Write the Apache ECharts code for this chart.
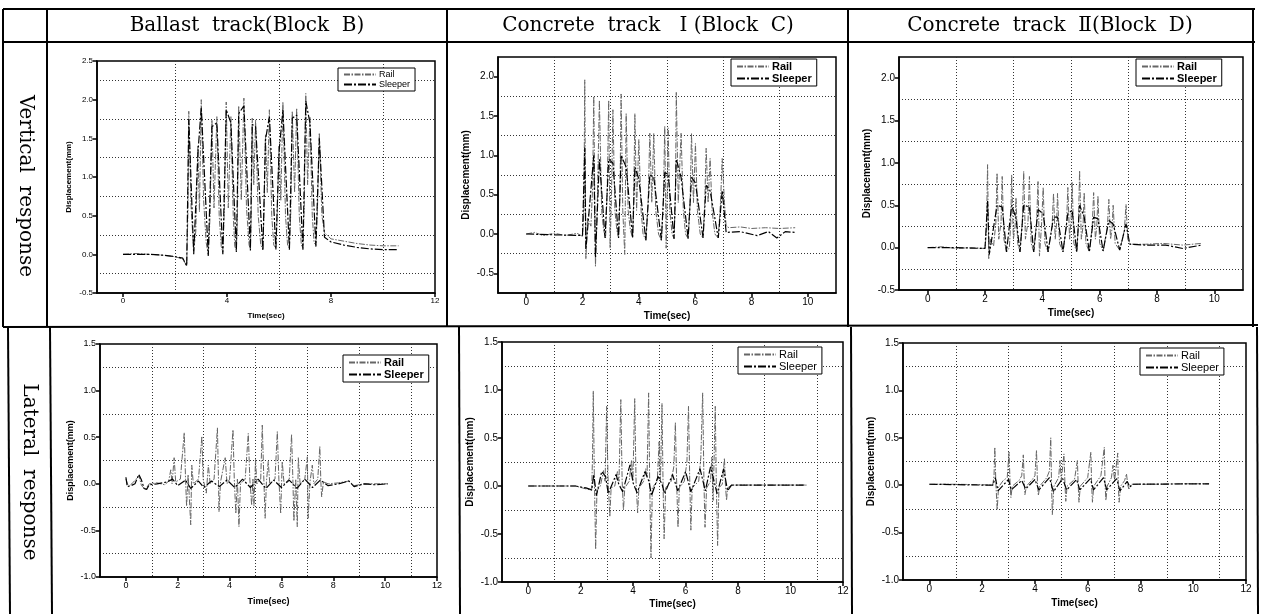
<!DOCTYPE html>
<html>
<head>
<meta charset="utf-8">
<script src="https://cdn.jsdelivr.net/npm/echarts@6/dist/echarts.min.js"></script>
<style>
    html, body {margin: 0; padding: 0; background: #fff;}
    #chart {width: 1261px; height: 614px;}
</style>
</head>
<body>
<div id="chart"></div>
<script>
// column / row captions
var columnTitles = ['Ballast  track(Block  B)', 'Concrete  track   \u2160 (Block  C)', 'Concrete  track  \u2161(Block  D)'];
var rowTitles = ['Vertical  response', 'Lateral  response'];
var legendNames = ['Rail', 'Sleeper'];

// tick labels and dotted grid positions
var xLabelsB = [0, 4, 8, 12];
var xGridB = [2, 6, 10];
var xLabelsC = [0, 2, 4, 6, 8, 10];
var xGridC = [1, 3, 5, 7, 9];
var xLabelsL = [0, 2, 4, 6, 8, 10, 12];
var xGridL = [1, 3, 5, 7, 9, 11];
var yLabelsVB = [-0.5, 0, 0.5, 1.0, 1.5, 2.0, 2.5];
var yGridVB = [-0.25, 0.25, 0.75, 1.25, 1.75, 2.25];
var yLabelsVC = [-0.5, 0, 0.5, 1.0, 1.5, 2.0];
var yGridVC = [-0.25, 0.25, 0.75, 1.25, 1.75];
var yLabelsL = [-1.0, -0.5, 0, 0.5, 1.0, 1.5];
var yGridL = [-0.75, -0.25, 0.25, 0.75, 1.25];

// vertical response, ballast track (Block B)
var vBallastRail = [[0,0],[0.5,0.01],[1,0],[1.5,-0.01],[2,-0.03],[2.3,-0.06],[2.45,-0.15],
    [2.5,0.6],[2.53,1.85],[2.62,0.6],[2.72,0.05],[2.8,0.3],[2.88,1.4],[2.94,0.55],[3.01,2.0],[3.1,0.7],[3.2,0.15],[3.28,0.0],
    [3.35,0.5],[3.42,1.74],[3.5,0.6],[3.61,1.78],[3.7,0.5],[3.78,0.1],[3.84,0.03],
    [3.9,0.6],[3.97,1.97],[4.05,0.6],[4.15,1.78],[4.24,0.5],[4.3,0.1],[4.36,0.05],
    [4.4,0.5],[4.45,1.92],[4.55,0.7],[4.65,2.02],[4.75,0.6],[4.85,0.12],[4.9,0.07],
    [4.93,0.5],[4.97,1.76],[5.03,0.9],[5.1,1.74],[5.2,0.5],[5.3,0.12],[5.38,0.07],
    [5.42,0.5],[5.48,1.55],[5.55,0.8],[5.63,1.87],[5.72,0.5],[5.8,0.12],[5.88,0.08],
    [5.93,0.5],[6.0,1.4],[6.07,0.7],[6.15,1.97],[6.25,0.5],[6.33,0.12],[6.4,0.08],
    [6.45,0.5],[6.51,1.85],[6.6,0.8],[6.68,1.89],[6.78,0.5],[6.86,0.12],[6.92,0.08],
    [6.97,0.6],[7.03,2.08],[7.1,0.9],[7.19,1.78],[7.28,0.5],[7.35,0.15],[7.42,0.12],
    [7.48,0.6],[7.55,1.57],[7.65,0.5],[7.75,0.28],[8.0,0.2],[8.5,0.17],[9,0.14],[9.5,0.12],[10,0.11],[10.6,0.11]];
var vBallastSleeper = [[0,0],[1,0],[1.5,-0.01],[2,-0.03],[2.3,-0.05],[2.45,-0.15],[2.53,1.75],[2.72,0.0],
    [2.88,1.3],[3.01,1.9],[3.28,-0.02],[3.42,1.65],[3.61,1.7],[3.84,0.0],[3.97,1.87],[4.15,1.7],[4.36,0.03],
    [4.45,1.82],[4.65,1.92],[4.9,0.05],[4.97,1.68],[5.1,1.65],[5.38,0.05],[5.48,1.48],[5.63,1.78],[5.88,0.06],
    [6.0,1.32],[6.15,1.87],[6.4,0.06],[6.51,1.76],[6.68,1.8],[6.92,0.06],[7.03,1.98],[7.19,1.7],[7.42,0.1],
    [7.55,1.5],[7.75,0.22],[8.0,0.16],[8.5,0.12],[9,0.09],[9.5,0.07],[10,0.06],[10.6,0.06]];

// vertical response, concrete track I (Block C)
var vConc1Rail = [[0,0],[0.3,0.02],[0.6,-0.02],[1,0.01],[1.4,-0.02],[1.8,0.01],[2.0,-0.03],
    [2.05,0.3],[2.08,1.96],[2.12,-0.32],[2.18,0.2],[2.3,0.1],[2.36,0.6],[2.4,1.75],[2.46,-0.41],[2.52,0.3],[2.6,1.70],[2.68,0.3],[2.75,0.05],[2.82,-0.05],
    [2.88,0.6],[2.93,1.70],[2.98,-0.18],[3.03,0.5],[3.08,1.58],[3.15,0.3],[3.22,0.05],[3.28,-0.05],
    [3.33,0.5],[3.37,1.78],[3.43,0.3],[3.5,-0.26],[3.52,0.4],[3.55,1.53],[3.62,0.3],[3.7,0.05],[3.78,-0.05],
    [3.82,0.5],[3.86,1.53],[3.92,0.3],[4.0,1.2],[4.08,0.3],[4.15,0.0],[4.25,-0.08],
    [4.33,0.4],[4.39,1.28],[4.46,0.4],[4.53,1.28],[4.6,0.3],[4.7,0.0],[4.8,-0.08],
    [4.87,0.4],[4.92,1.37],[4.97,-0.18],[5.0,0.4],[5.04,1.35],[5.1,0.3],[5.18,0.0],[5.25,-0.06],
    [5.3,0.5],[5.33,1.80],[5.4,0.4],[5.5,1.28],[5.58,0.3],[5.66,0.0],[5.75,-0.06],
    [5.82,0.4],[5.87,1.28],[5.94,0.4],[6.01,1.15],[6.08,0.3],[6.18,0.0],[6.28,-0.05],
    [6.34,0.4],[6.39,1.09],[6.46,0.4],[6.53,0.96],[6.6,0.3],[6.7,0.0],[6.82,-0.05],
    [6.9,0.4],[6.96,0.96],[7.04,0.4],[7.1,0.1],[7.2,0.08],[7.6,0.09],[8,0.07],[8.5,0.08],[9,0.07],[9.55,0.08]];
var vConc1Sleeper = [[0,0],[1,-0.01],[2.0,-0.02],[2.08,1.1],[2.12,-0.2],[2.4,1.0],[2.46,-0.3],[2.6,0.95],[2.8,-0.05],
    [2.93,0.95],[3.08,0.9],[3.28,-0.05],[3.37,1.0],[3.55,0.85],[3.78,-0.05],[3.86,0.85],[4.0,0.7],[4.25,-0.08],
    [4.39,0.75],[4.53,0.72],[4.8,-0.08],[4.92,0.78],[5.04,0.76],[5.25,-0.06],[5.33,0.95],[5.5,0.72],[5.75,-0.06],
    [5.87,0.72],[6.01,0.65],[6.28,-0.05],[6.39,0.62],[6.53,0.55],[6.82,-0.05],[6.96,0.55],[7.1,0.02],[7.6,0.03],
    [8.2,-0.02],[8.6,0.03],[8.9,-0.05],[9.2,0.03],[9.55,0.02]];

// vertical response, concrete track II (Block D)
var vConc2Rail = [[0,0],[0.5,0.01],[1,-0.01],[1.5,0.0],[2.0,-0.01],[2.05,0.2],[2.09,0.98],[2.13,-0.13],[2.2,0.1],[2.3,0.02],
    [2.38,0.3],[2.42,0.88],[2.48,0.1],[2.56,0.3],[2.6,0.84],[2.66,0.1],[2.75,-0.05],[2.85,0.0],
    [2.9,0.3],[2.93,0.86],[2.99,0.1],[3.05,0.25],[3.08,0.59],[3.14,0.05],[3.22,-0.05],
    [3.3,0.3],[3.35,0.90],[3.41,0.1],[3.5,0.3],[3.55,0.84],[3.61,0.05],[3.7,-0.05],
    [3.8,0.3],[3.85,0.78],[3.9,-0.1],[3.97,0.25],[4.03,0.71],[4.09,0.05],[4.2,-0.05],
    [4.34,0.25],[4.39,0.64],[4.45,0.1],[4.5,0.3],[4.53,0.64],[4.6,0.05],[4.72,-0.05],
    [4.84,0.25],[4.89,0.71],[4.95,0.1],[5.0,0.3],[5.04,0.77],[5.1,0.05],[5.2,-0.05],
    [5.26,0.3],[5.30,0.91],[5.36,0.1],[5.42,0.25],[5.46,0.65],[5.52,0.05],[5.64,-0.05],
    [5.74,0.25],[5.79,0.65],[5.85,0.1],[5.9,0.25],[5.94,0.61],[6.0,0.05],[6.12,-0.04],
    [6.27,0.25],[6.32,0.57],[6.38,0.1],[6.43,0.22],[6.47,0.50],[6.54,0.05],[6.7,-0.03],
    [6.86,0.2],[6.92,0.51],[6.98,0.1],[7.05,0.05],[7.15,0.04],[7.6,0.04],[8.2,0.05],[8.9,0.03],[9.55,0.05]];
var vConc2Sleeper = [[0,0],[1,0],[2.0,-0.01],[2.09,0.55],[2.15,-0.08],[2.42,0.5],[2.6,0.48],[2.75,-0.05],[2.93,0.5],
    [3.08,0.35],[3.22,-0.05],[3.35,0.5],[3.55,0.48],[3.7,-0.05],[3.85,0.45],[4.03,0.4],[4.2,-0.05],[4.39,0.36],
    [4.53,0.36],[4.72,-0.05],[4.89,0.4],[5.04,0.44],[5.2,-0.05],[5.3,0.5],[5.46,0.36],[5.64,-0.05],[5.79,0.36],
    [5.94,0.34],[6.12,-0.04],[6.32,0.32],[6.47,0.28],[6.7,-0.03],[6.92,0.28],[7.05,0.04],[7.6,0.03],[8.3,0.03],
    [8.9,-0.01],[9.55,0.03]];

// lateral response, ballast track (Block B)
var lBallastRail = [[0,0.05],[0.1,-0.03],[0.3,0.02],[0.5,0.09],[0.6,-0.02],[0.75,-0.06],[0.9,0.0],[1.2,0.01],[1.5,-0.01],
    [1.65,0.03],[1.73,0.15],[1.78,0.0],[1.86,0.28],[1.92,0.02],[2.1,0.05],[2.25,0.55],[2.3,0.05],[2.34,-0.24],[2.4,0.1],
    [2.5,-0.44],[2.54,0.2],[2.6,0.0],[2.8,0.05],[2.93,0.51],[2.98,0.05],[3.1,-0.1],[3.18,0.2],[3.25,0.0],[3.4,0.05],
    [3.53,0.6],[3.57,0.05],[3.59,-0.3],[3.65,0.02],[3.83,0.28],[3.9,0.0],[4.0,0.05],[4.13,0.58],[4.18,0.05],[4.24,-0.32],
    [4.3,0.05],[4.36,-0.46],[4.42,0.0],[4.6,0.05],[4.72,0.54],[4.78,0.05],[4.85,-0.23],[4.9,0.05],[4.94,-0.24],[5.0,0.26],
    [5.05,0.0],[5.2,0.05],[5.26,0.63],[5.32,0.05],[5.37,-0.37],[5.42,0.02],[5.49,0.24],[5.55,0.0],[5.75,0.05],[5.84,0.56],
    [5.9,0.05],[5.97,-0.32],[6.03,0.24],[6.1,0.0],[6.3,0.05],[6.39,0.53],[6.44,0.05],[6.48,-0.4],[6.55,0.05],[6.61,-0.46],
    [6.65,0.28],[6.72,0.0],[6.9,0.05],[7.0,0.29],[7.03,-0.37],[7.1,0.02],[7.19,0.2],[7.25,0.0],[7.4,0.05],[7.48,0.4],
    [7.52,0.02],[7.55,-0.14],[7.62,0.02],[7.8,0.0],[8.2,0.01],[8.6,0.03],[8.8,-0.02],[9.2,0.0],[9.6,0.0],[10.1,0.0]];
var lBallastSleeper = [[0,0.07],[0.05,-0.03],[0.2,-0.02],[0.35,0.0],[0.5,0.1],[0.6,0.04],[0.7,-0.05],[0.8,-0.06],[0.9,-0.01],
    [1.2,0.0],[1.6,0.02],[1.8,0.05],[2.0,-0.02],[2.3,0.04],[2.5,-0.05],[2.8,0.03],[3.0,-0.04],[3.3,0.03],[3.6,-0.03],
    [3.9,0.04],[4.2,-0.04],[4.5,0.05],[4.8,-0.04],[5.1,0.05],[5.4,-0.05],[5.7,0.04],[6.0,-0.04],[6.3,0.04],[6.6,-0.05],
    [6.9,0.05],[7.2,-0.04],[7.5,0.04],[7.8,-0.02],[8.2,0.0],[8.6,0.03],[8.8,-0.03],[9.2,0.0],[9.6,-0.01],[10.1,0.0]];

// lateral response, concrete track I (Block C)
var lConc1Rail = [[0,0],[1.0,0.0],[1.8,0.0],[2.2,-0.03],[2.42,-0.045],
    [2.45,0.3],[2.48,0.99],[2.52,0.1],[2.57,-0.66],[2.62,-0.05],[2.75,0.0],[2.87,0.16],[2.93,0.05],[2.99,0.83],[3.04,0.1],
    [3.11,-0.32],[3.16,-0.02],[3.3,0.0],[3.4,0.15],[3.46,0.05],[3.53,0.9],[3.58,0.05],[3.63,-0.25],[3.68,-0.02],[3.85,0.05],
    [3.94,0.27],[3.99,0.05],[4.06,0.91],[4.11,0.05],[4.17,-0.28],[4.22,-0.02],[4.4,0.05],[4.48,0.18],[4.53,0.1],[4.59,0.97],
    [4.63,0.05],[4.68,-0.75],[4.73,-0.02],[4.92,0.05],[4.99,0.46],[5.04,0.05],[5.1,0.86],[5.14,0.02],[5.18,-0.55],[5.24,-0.02],
    [5.45,0.05],[5.55,0.2],[5.61,0.66],[5.66,0.02],[5.71,-0.43],[5.76,-0.02],[5.95,0.05],[6.05,0.25],[6.11,0.83],[6.16,0.02],
    [6.2,-0.46],[6.25,-0.02],[6.5,0.05],[6.58,0.3],[6.65,0.97],[6.7,0.02],[6.74,-0.43],[6.8,-0.02],[6.95,0.05],[7.0,0.30],
    [7.05,-0.15],[7.13,0.83],[7.17,0.02],[7.22,-0.62],[7.27,-0.02],[7.4,0.02],[7.48,0.29],[7.52,0.0],[7.56,-0.15],[7.6,-0.02],
    [7.75,0.01],[8.5,0.01],[9.5,0.01],[10.6,0.01]];
var lConc1Sleeper = [[0,0],[1.8,0.0],[2.2,-0.02],[2.42,-0.04],[2.5,0.12],[2.6,-0.1],[2.8,0.15],[2.95,0.1],[3.05,-0.08],
    [3.35,0.12],[3.45,0.02],[3.6,-0.06],[3.88,0.22],[4.0,0.03],[4.15,-0.07],[4.45,0.15],[4.6,0.05],[4.7,-0.1],[4.95,0.1],
    [5.1,0.02],[5.2,-0.08],[5.5,0.12],[5.7,-0.05],[6.0,0.15],[6.2,-0.06],[6.55,0.18],[6.75,-0.05],[6.95,0.2],[7.2,-0.08],
    [7.45,0.18],[7.6,-0.05],[7.75,0.01],[10.6,0.01]];

// lateral response, concrete track II (Block D)
var lConc2Rail = [[0,0.01],[1,0.01],[2,0.005],[2.4,0.0],[2.45,0.1],[2.48,0.40],[2.52,0.02],[2.57,-0.26],[2.62,-0.02],
    [2.8,0.05],[2.95,0.08],[3.02,0.35],[3.06,0.0],[3.09,-0.13],[3.14,-0.01],[3.4,0.05],[3.5,0.1],[3.56,0.32],[3.6,0.0],
    [3.62,-0.10],[3.68,-0.01],[3.9,0.06],[4.0,0.1],[4.06,0.37],[4.1,0.0],[4.13,-0.11],[4.18,-0.01],[4.45,0.08],[4.55,0.15],
    [4.6,0.50],[4.63,0.0],[4.66,-0.31],[4.72,-0.01],[4.9,0.08],[4.95,0.26],[5.0,0.05],[5.1,0.33],[5.14,0.0],[5.17,-0.17],
    [5.22,-0.01],[5.5,0.06],[5.61,0.26],[5.64,0.0],[5.67,-0.18],[5.72,-0.01],[6.0,0.08],[6.12,0.35],[6.15,0.0],[6.18,-0.18],
    [6.23,-0.01],[6.5,0.1],[6.63,0.40],[6.66,0.0],[6.69,-0.16],[6.74,-0.01],[6.9,0.08],[6.96,0.21],[7.02,0.05],[7.14,0.34],
    [7.16,0.0],[7.19,-0.18],[7.25,-0.01],[7.4,0.05],[7.47,0.12],[7.52,0.0],[7.56,-0.04],[7.65,0.01],[8.5,0.01],[9.5,0.015],[10.6,0.015]];
var lConc2Sleeper = [[0,0.01],[2.4,0.0],[2.5,0.08],[2.6,-0.06],[3.0,0.06],[3.1,-0.05],[3.5,0.05],[3.65,-0.04],[4.0,0.06],
    [4.15,-0.05],[4.55,0.08],[4.7,-0.07],[5.05,0.07],[5.2,-0.05],[5.58,0.06],[5.7,-0.05],[6.1,0.07],[6.22,-0.05],[6.6,0.08],
    [6.72,-0.05],[7.1,0.07],[7.22,-0.06],[7.5,0.04],[7.6,-0.02],[7.7,0.01],[10.6,0.015]];

var SANS = '"Liberation Sans", Arial, sans-serif';
var SERIF = '"DejaVu Serif", "Liberation Serif", "Noto Sans CJK KR", serif';

// plot boxes (pixels) and axis setup for the six panels
var panels = [
    {box: [97, 61, 338, 232], x: [-1, 12, xLabelsB, xGridB], y: [-0.5, 2.5, yLabelsVB, yGridVB], font: 8, legend: [338, 68, 9, false], nameGap: [19, 24],
        rail: vBallastRail, sleeper: vBallastSleeper},
    {box: [498, 57, 338, 236], x: [-1, 11, xLabelsC, xGridC], y: [-0.75, 2.25, yLabelsVC, yGridVC], font: 10, legend: [731, 59, 11, true], nameGap: [18, 27],
        rail: vConc1Rail, sleeper: vConc1Sleeper},
    {box: [899, 57, 344, 233], x: [-1, 11, xLabelsC, xGridC], y: [-0.5, 2.25, yLabelsVC, yGridVC], font: 10, legend: [1136, 59, 11, true], nameGap: [18, 27],
        rail: vConc2Rail, sleeper: vConc2Sleeper},
    {box: [100, 344, 337, 233], x: [-1, 12, xLabelsL, xGridL], y: [-1, 1.5, yLabelsL, yGridL], font: 9, legend: [343, 355, 11, true], nameGap: [20, 25],
        rail: lBallastRail, sleeper: lBallastSleeper},
    {box: [502, 342, 341, 240], x: [-1, 12, xLabelsL, xGridL], y: [-1, 1.5, yLabelsL, yGridL], font: 10, legend: [738, 347, 11, false], nameGap: [17, 27],
        rail: lConc1Rail, sleeper: lConc1Sleeper},
    {box: [903, 343, 343, 237], x: [-1, 12, xLabelsL, xGridL], y: [-1, 1.5, yLabelsL, yGridL], font: 10, legend: [1140, 348, 11, false], nameGap: [18, 27],
        rail: lConc2Rail, sleeper: lConc2Sleeper}
];

function fmtY(v) {
    return v.toFixed(1);
}

function dotted() {
    return {show: true, lineStyle: {color: '#333', width: 1, type: [1, 2]}};
}

var grids = [];
var xAxes = [];
var yAxes = [];
var legends = [];
var series = [];

panels.forEach(function (p, i) {
    grids.push({
        left: p.box[0], top: p.box[1], width: p.box[2], height: p.box[3],
        show: true, borderColor: '#000', borderWidth: 1.5
    });
    var labelStyle = {fontSize: p.font, fontFamily: SANS, color: '#000', margin: 4};
    // labelled axes
    xAxes.push({
        type: 'value', gridIndex: i, min: p.x[0], max: p.x[1],
        axisLine: {onZero: false, lineStyle: {color: '#000', width: 1.5}},
        axisTick: {inside: false, length: 4, customValues: p.x[2], lineStyle: {color: '#000', width: 1.5}},
        axisLabel: Object.assign({customValues: p.x[2]}, labelStyle),
        splitLine: {show: false},
        name: 'Time(sec)', nameLocation: 'middle', nameGap: p.nameGap[0],
        nameTextStyle: {fontSize: p.font, fontWeight: 'bold', fontFamily: SANS, color: '#000'}
    });
    yAxes.push({
        type: 'value', gridIndex: i, min: p.y[0], max: p.y[1],
        axisLine: {onZero: false, lineStyle: {color: '#000', width: 1.5}},
        axisTick: {inside: false, length: 4, customValues: p.y[2], lineStyle: {color: '#000', width: 1.5}},
        axisLabel: Object.assign({customValues: p.y[2], formatter: fmtY}, labelStyle),
        splitLine: {show: false},
        name: 'Displacement(mm)', nameLocation: 'middle', nameGap: p.nameGap[1],
        nameTextStyle: {fontSize: p.font, fontWeight: 'bold', fontFamily: SANS, color: '#000'}
    });
    // second pair of axes only carries the dotted grid
    xAxes.push({
        type: 'value', gridIndex: i, min: p.x[0], max: p.x[1], position: 'top',
        axisLine: {show: false}, axisTick: {show: false, customValues: p.x[3]},
        axisLabel: {show: false, customValues: p.x[3]}, splitLine: dotted()
    });
    yAxes.push({
        type: 'value', gridIndex: i, min: p.y[0], max: p.y[1], position: 'right',
        axisLine: {show: false}, axisTick: {show: false, customValues: p.y[3]},
        axisLabel: {show: false, customValues: p.y[3]}, splitLine: dotted()
    });
    legends.push({
        data: legendNames, orient: 'vertical', left: p.legend[0], top: p.legend[1],
        backgroundColor: '#fff', borderColor: '#000', borderWidth: 1, borderRadius: 0,
        padding: [2, 5, 2, 5], itemGap: 1, itemWidth: 32, itemHeight: 8,
        itemStyle: {opacity: 0},
        textStyle: {fontSize: p.legend[2], fontFamily: SANS, color: '#000', fontWeight: p.legend[3] ? 'bold' : 'normal', padding: [0, 0, 0, -2]}
    });
    series.push({
        name: 'Rail', type: 'line', xAxisIndex: i * 2, yAxisIndex: i * 2,
        data: p.rail, symbol: 'none', animation: false,
        itemStyle: {color: '#666'},
        lineStyle: {color: '#666', width: 1, type: [6, 1.5, 1.5, 1.5]}
    });
    series.push({
        name: 'Sleeper', type: 'line', xAxisIndex: i * 2, yAxisIndex: i * 2,
        data: p.sleeper, symbol: 'none', animation: false,
        itemStyle: {color: '#000'},
        lineStyle: {color: '#000', width: 1.2, type: [8, 2, 2, 2]}
    });
});

// table frame
var rules = [
    [3, 9, 1255, 9], [3, 42, 1255, 42], [3, 327, 1258, 325],
    [3, 9, 3, 327], [47, 9, 47, 327], [447, 9, 447, 327], [848, 9, 848, 327], [1253, 9, 1253, 327],
    [8, 327, 10, 614], [50, 327, 52, 614], [459, 327, 460, 614], [851, 327, 852, 614], [1257, 327, 1258, 614]
];
var graphics = rules.map(function (r) {
    return {type: 'line', silent: true, shape: {x1: r[0], y1: r[1], x2: r[2], y2: r[3]}, style: {stroke: '#000', lineWidth: 2}};
});
var colCenters = [247, 648, 1050];
columnTitles.forEach(function (t, i) {
    graphics.push({type: 'text', x: colCenters[i], y: 26,
        style: {text: t, fontSize: 20, fontFamily: SERIF, fill: '#000', align: 'center', verticalAlign: 'middle'}});
});
var rowCenters = [[25, 186], [29, 472]];
rowTitles.forEach(function (t, i) {
    graphics.push({type: 'text', x: rowCenters[i][0], y: rowCenters[i][1], rotation: -Math.PI / 2,
        style: {text: t, fontSize: 20, fontFamily: SERIF, fill: '#000', align: 'center', verticalAlign: 'middle'}});
});

var chart = echarts.init(document.getElementById('chart'));
chart.setOption({
    animation: false,
    backgroundColor: '#fff',
    grid: grids,
    xAxis: xAxes,
    yAxis: yAxes,
    legend: legends,
    series: series,
    graphic: graphics
});
</script>
</body>
</html>
